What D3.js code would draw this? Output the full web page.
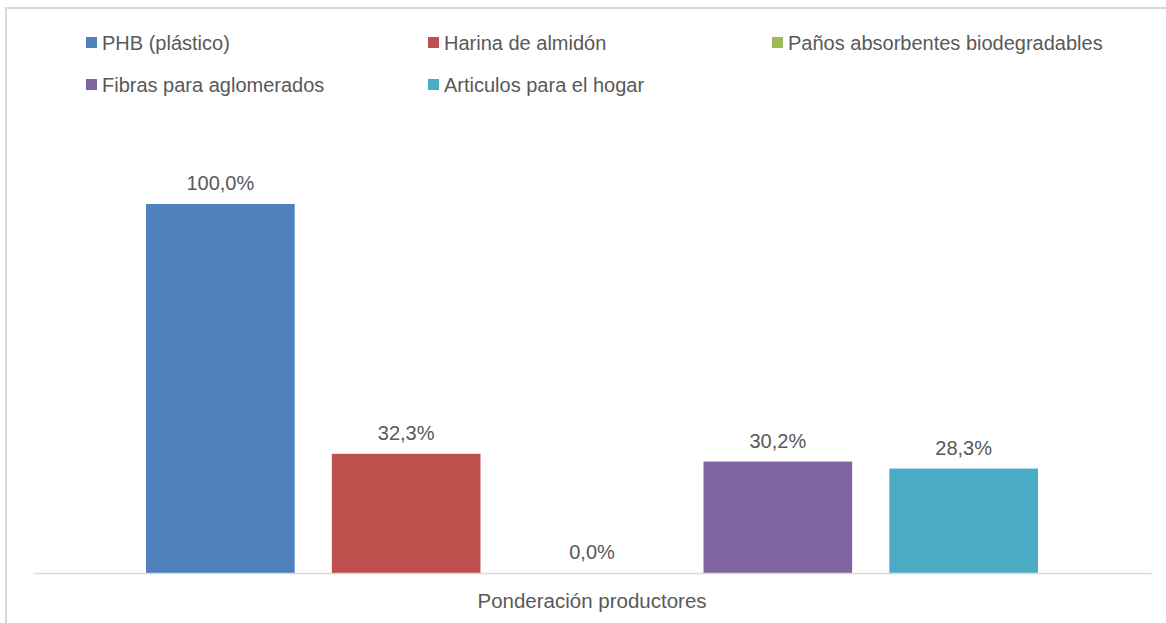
<!DOCTYPE html>
<html>
<head>
<meta charset="utf-8">
<script src="https://cdn.jsdelivr.net/npm/d3@7"></script>
<style>
  body { margin: 0; background: #fff; }
  text { font-family: "Liberation Sans", sans-serif; fill: #595959; }
</style>
</head>
<body>
<script>
// datos del grafico
const series = ["PHB (plástico)", "Harina de almidón", "Paños absorbentes biodegradables", "Fibras para aglomerados", "Articulos para el hogar"];
const valores = [1.0, 0.323, 0.0, 0.302, 0.283];
const colores = ["#4F81BD", "#C0504D", "#9BBB59", "#8064A2", "#4BACC6"];
const categoria = "Ponderación productores";

const width = 1166;
const height = 623;

const svg = d3.select("body")
  .append("svg")
  .attr("width", width)
  .attr("height", height);

// marco del grafico
svg.append("rect")
  .attr("x", 6)
  .attr("y", 8)
  .attr("width", width + 10)
  .attr("height", height + 10)
  .attr("fill", "none")
  .attr("stroke", "#d9d9d9")
  .attr("stroke-width", 2);

const margin = { left: 33, right: 15, baseline: 573 };

const escalaCat = d3.scaleBand()
  .domain([categoria])
  .range([margin.left, width - margin.right]);

// barras dentro de la categoria
const escalaSerie = d3.scaleBand()
  .domain(series)
  .range([113, escalaCat.bandwidth() - 113])
  .paddingInner(0.2);

const escalaY = d3.scaleLinear()
  .domain([0, 1.2])
  .range([margin.baseline, margin.baseline - 369 * 1.2]);

const fmt = v => d3.format(".1f")(v * 100).replace(".", ",") + "%";

const g = svg.append("g")
  .attr("transform", "translate(" + escalaCat(categoria) + ",0)");

g.selectAll("rect")
  .data(valores)
  .enter()
  .append("rect")
  .attr("x", (d, i) => escalaSerie(series[i]))
  .attr("width", escalaSerie.bandwidth())
  .attr("y", d => escalaY(d))
  .attr("height", d => escalaY(0) - escalaY(d))
  .attr("fill", (d, i) => colores[i]);

g.selectAll("text.etiqueta")
  .data(valores)
  .enter()
  .append("text")
  .attr("class", "etiqueta")
  .attr("x", (d, i) => escalaSerie(series[i]) + escalaSerie.bandwidth() / 2)
  .attr("y", d => escalaY(d) - 14)
  .attr("text-anchor", "middle")
  .attr("font-size", 20)
  .text(d => fmt(d));

// eje x
const ejeX = d3.axisBottom(escalaCat).tickSize(0).tickPadding(20);
const gx = svg.append("g")
  .attr("transform", "translate(0," + margin.baseline + ")")
  .call(ejeX);
gx.select(".domain").attr("stroke", "#d9d9d9").attr("stroke-width", 1.5);
gx.selectAll("text")
  .attr("font-size", 20.5)
  .style("font-family", "'Liberation Sans', sans-serif")
  .attr("fill", "#595959");

// leyenda
const legX = [86, 428, 772];
const leyenda = svg.selectAll("g.ley")
  .data(series)
  .enter()
  .append("g")
  .attr("class", "ley")
  .attr("transform", (d, i) => "translate(" + legX[i % 3] + "," + (43 + Math.floor(i / 3) * 42) + ")");
leyenda.append("rect")
  .attr("x", 0)
  .attr("y", -6)
  .attr("width", 11)
  .attr("height", 11)
  .attr("fill", (d, i) => colores[i]);
leyenda.append("text")
  .attr("x", 16)
  .attr("y", 7)
  .attr("font-size", 20)
  .text(d => d);
</script>
</body>
</html>
